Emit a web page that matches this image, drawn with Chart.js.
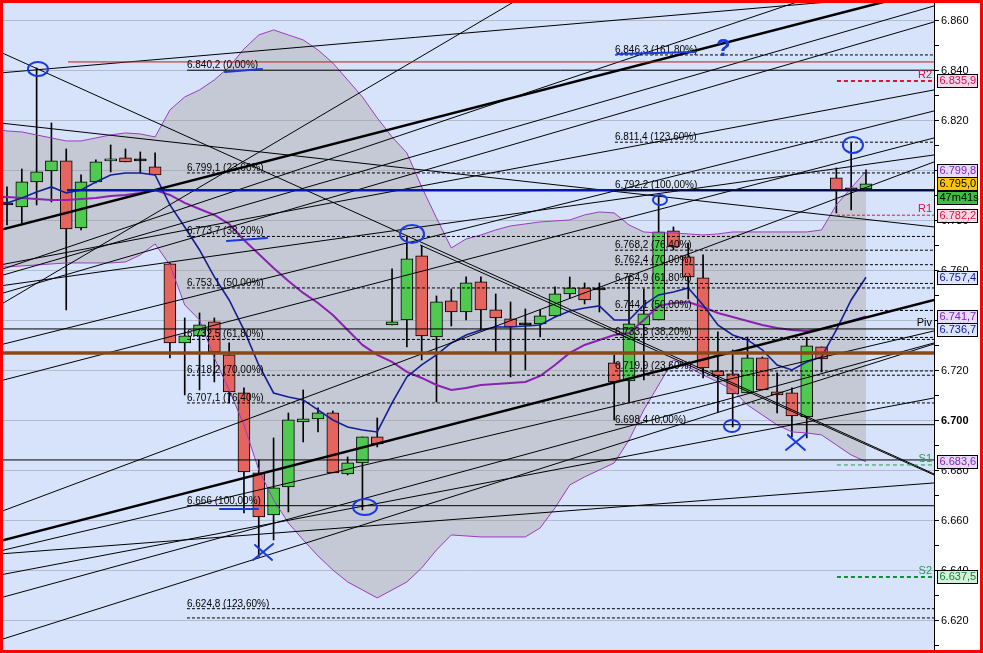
<!DOCTYPE html>
<html>
<head>
<meta charset="utf-8">
<script src="https://cdn.jsdelivr.net/npm/chart.js@4.4.1/dist/chart.umd.min.js"></script>
<style>
  html, body { margin: 0; padding: 0; background: #fff; }
  #wrap { width: 983px; height: 653px; }
</style>
</head>
<body>
<div id="wrap"><canvas id="chart" width="983" height="653"></canvas></div>
<script>
// bar index (one per candle)
const candleIndex = [0,1,2,3,4,5,6,7,8,9,10,11,12,13,14,15,16,17,18,19,20,21,22,23,24,25,26,27,28,29,
  30,31,32,33,34,35,36,37,38,39,40,41,42,43,44,45,46,47,48,49,50,51,52,53,54,55,56,57,58];

const opens = [6.7863,6.7855,6.7955,6.7999,6.8039,6.7771,6.7955,6.8039,6.8051,6.8039,
  6.8015,6.7627,6.7311,6.7339,6.7395,6.7263,6.7111,6.6791,6.6623,6.6735,
  6.6995,6.7007,6.7031,6.6787,6.6831,6.6935,6.7383,6.7403,6.7659,6.7335,
  6.7479,6.7435,6.7555,6.7443,6.7407,6.7383,6.7387,6.7419,6.7507,6.7531,
  6.7523,6.7231,6.7159,6.7383,6.7403,6.7759,6.7655,6.7571,6.7199,6.7187,
  6.7111,6.7251,6.7115,6.7111,6.7015,6.7295,6.7971,6.7923,6.7927];
const highs = [6.7935,6.8007,6.8411,6.8191,6.8087,6.7983,6.8043,6.8103,6.8087,6.8075,
  6.8071,6.7631,6.7411,6.7431,6.7411,6.7311,6.7131,6.6843,6.6931,6.7031,
  6.7123,6.7051,6.7039,6.6855,6.6935,6.7011,6.7607,6.7735,6.7699,6.7499,
  6.7527,6.7575,6.7575,6.7507,6.7475,6.7447,6.7443,6.7535,6.7575,6.7551,
  6.7551,6.7263,6.7575,6.7527,6.7895,6.7775,6.7711,6.7663,6.7355,6.7283,
  6.7335,6.7255,6.7191,6.7131,6.7331,6.7295,6.8011,6.8111,6.8003];
const lows = [6.7783,6.7791,6.7863,6.7875,6.7443,6.7763,6.7951,6.7995,6.8035,6.7991,
  6.7983,6.7251,6.7103,6.7123,6.7155,6.7071,6.6631,6.6455,6.6523,6.6635,
  6.6915,6.6955,6.6791,6.6783,6.6643,6.6895,6.7383,6.7295,6.7243,6.7075,
  6.7379,6.7403,6.7363,6.7271,6.7175,6.7203,6.7335,6.7415,6.7491,6.7467,
  6.7435,6.7003,6.7075,6.7163,6.7403,6.7683,6.7487,6.7171,6.7035,6.6975,
  6.7111,6.7123,6.7031,6.6935,6.6931,6.7195,6.7831,6.7843,6.7927];
const closes = [6.7863,6.7955,6.7995,6.8039,6.7767,6.7955,6.8035,6.8047,6.8035,6.8039,
  6.7983,6.7311,6.7339,6.7383,6.7275,6.7115,6.6795,6.6615,6.6731,6.7003,
  6.7007,6.7031,6.6791,6.6831,6.6935,6.6907,6.7395,6.7647,6.7339,6.7475,
  6.7435,6.7551,6.7443,6.7411,6.7375,6.7383,6.7419,6.7507,6.7531,6.7483,
  6.7523,6.7155,6.7387,6.7427,6.7755,6.7695,6.7575,6.7211,6.7179,6.7107,
  6.7251,6.7123,6.7103,6.7019,6.7299,6.7247,6.7923,6.7923,6.7947];

const maBlue = [6.7871,6.7891,6.7915,6.7935,6.7911,6.7923,6.7955,6.7983,6.7991,6.7991,
  6.7983,6.7863,6.7775,6.7683,6.7575,6.7483,6.7363,6.7223,6.7111,6.7095,
  6.7083,6.7043,6.7003,6.6975,6.6963,6.6955,6.7071,6.7175,6.7223,6.7263,
  6.7311,6.7343,6.7363,6.7375,6.7375,6.7379,6.7383,6.7415,6.7439,6.7451,
  6.7459,6.7403,6.7403,6.7463,6.7503,6.7515,6.7531,6.7463,6.7383,6.7343,
  6.7323,6.7283,6.7223,6.7203,6.7235,6.7255,6.7363,6.7483,6.7574];
const bandUpper = [6.8159,6.8155,6.8143,6.8131,6.8119,6.8119,6.8131,6.8143,6.8151,6.8147,
  6.8135,6.8243,6.8295,6.8323,6.8363,6.8415,6.8487,6.8543,6.8563,6.8543,
  6.8523,6.8483,6.8431,6.8363,6.8295,6.8211,6.8135,6.8071,6.7935,6.7811,
  6.7691,6.7727,6.7743,6.7763,6.7779,6.7787,6.7795,6.7799,6.7803,6.7823,
  6.7835,6.7831,6.7783,6.7755,6.7751,6.7751,6.7747,6.7743,6.7747,6.7755,
  6.7755,6.7755,6.7755,6.7755,6.7755,6.7763,6.7863,6.7931,6.7998];
const bandMid = [6.7895,6.7891,6.7887,6.7883,6.7883,6.7887,6.7891,6.7899,6.7903,6.7911,
  6.7923,6.7903,6.7871,6.7847,6.7823,6.7787,6.7723,6.7667,6.7611,6.7559,
  6.7511,6.7471,6.7423,6.7363,6.7303,6.7263,6.7235,6.7195,6.7171,6.7143,
  6.7123,6.7131,6.7143,6.7147,6.7151,6.7155,6.7179,6.7223,6.7271,6.7303,
  6.7323,6.7343,6.7351,6.7403,6.7459,6.7471,6.7475,6.7455,6.7431,6.7415,
  6.7399,6.7383,6.7371,6.7363,6.7359,6.7367,6.7383,6.7399,6.7417];
const bandLower = [6.7615,6.7619,6.7623,6.7627,6.7631,6.7631,6.7631,6.7631,6.7635,6.7663,
  6.7707,6.7623,6.7463,6.7403,6.7251,6.7123,6.6983,6.6803,6.6683,6.6591,
  6.6523,6.6459,6.6403,6.6355,6.6323,6.6291,6.6323,6.6355,6.6411,6.6483,
  6.6543,6.6539,6.6535,6.6535,6.6535,6.6535,6.6571,6.6651,6.6743,6.6775,
  6.6803,6.6831,6.6923,6.7043,6.7143,6.7243,6.7215,6.7183,6.7155,6.7123,
  6.7063,6.7023,6.6983,6.6955,6.6951,6.6943,6.6903,6.6863,6.6836];

// indicator readings at the left edge of the window (before bar 0)
const edgeBar = -0.47;
const edgeUpper = 6.8163, edgeMid = 6.7895, edgeLower = 6.7615, edgeMa = 6.7875;

// fibonacci levels (left set starts at bar 12, right set at bar 41)
const fibLeftStart = 12.15;
const fibLeftValues = [6.8402, 6.7991, 6.7737, 6.7531, 6.7325, 6.7182, 6.7071, 6.6660, 6.6248];
const fibLeftLabels = ['6.840,2 (0,00%)', '6.799,1 (23,60%)', '6.773,7 (38,20%)', '6.753,1 (50,00%)',
  '6.732,5 (61,80%)', '6.718,2 (70,00%)', '6.707,1 (76,40%)', '6.666 (100,00%)', '6.624,8 (123,60%)'];
const fibRightStart = 41.05;
const fibRightValues = [6.8463, 6.8114, 6.7922, 6.7682, 6.7624, 6.7549, 6.7441, 6.7333, 6.7199, 6.6984];
const fibRightLabels = ['6.846,3 (161,80%)', '6.811,4 (123,60%)', '6.792,2 (100,00%)', '6.768,2 (76,40%)',
  '6.762,4 (70,00%)', '6.754,9 (61,80%)', '6.744,1 (50,00%)', '6.733,3 (38,20%)', '6.719,9 (23,60%)', '6.698,4 (0,00%)'];
const extraDashed = [6.6211];

// other horizontal levels
const redLevel = 6.8435, redStart = 4.12;
const blueLevel = 6.7922, blueStart = 4.05;
const brownLevel = 6.7271;
const pivLevel = 6.7367;
const s1Solid = 6.6843;
const pivotStart = 56.04;
const pivotNames = ['R2', 'R1', 'Piv', 'S1', 'S2'];
const pivotValues = [6.8359, 6.7822, 6.7367, 6.6823, 6.6375];

// trend lines: [bar0, price0, bar1, price1]
const trendLines = [
  [-0.473, 6.7763, 62.593, 6.8727],
  [-0.473, 6.6519, 62.593, 6.7483],
  [-0.473, 6.7579, 62.593, 6.8659],
  [-0.473, 6.7507, 62.593, 6.8595],
  [-0.473, 6.7603, 62.593, 6.8859],
  [-0.473, 6.7303, 62.593, 6.8239],
  [-0.473, 6.7623, 62.593, 6.8323],
  [-0.473, 6.7159, 62.593, 6.8131],
  [-0.473, 6.7539, 62.593, 6.8063],
  [-0.473, 6.6635, 62.593, 6.8035],
  [-0.473, 6.6291, 62.593, 6.7311],
  [-0.473, 6.6123, 62.593, 6.7307],
  [-0.473, 6.6467, 62.593, 6.6751],
  [-0.473, 6.6479, 62.593, 6.7359],
  [-0.473, 6.6383, 62.593, 6.7091],
  [-0.473, 6.7463, 34.436, 6.8683],
  [-0.473, 6.8391, 62.593, 6.8711],
  [-0.473, 6.8475, 62.593, 6.6787],
  [-0.473, 6.8191, 62.593, 6.7775],
  [27.887, 6.7703, 62.593, 6.6783]
];
const thickTrends = [0, 1];

// right-axis value boxes
const boxValues = [6.8359, 6.7998, 6.7950, 6.7822, 6.7574, 6.7417, 6.7367, 6.6836, 6.6375];
const boxLabels = ['6.835,9', '6.799,8', '6.795,0', '6.782,2', '6.757,4', '6.741,7', '6.736,7', '6.683,6', '6.637,5'];
const boxFill = ['#f2d6ee', '#e4dcf8', '#ffc400', '#f8d8e4', '#dce4ff', '#e4dcf8', '#dce4ff', '#e4dcf8', '#d4f0d8'];
const boxText = ['#e0103c', '#8a20c0', '#000000', '#e0103c', '#10209a', '#8a20c0', '#10209a', '#8a20c0', '#108040'];
const timerLabel = '47m41s';

// hand drawn marks [bar, price]
const circleMarks = [[2.09, 6.8407], [27.35, 6.7747], [44.09, 6.7883], [57.12, 6.8103], [48.95, 6.6979], [24.17, 6.6655]];
const circleSize = [[10, 7], [12, 9], [7, 5], [10, 8], [8, 6], [12, 8]];
const crossMarks = [[17.29, 6.6475], [53.27, 6.6915]];
const underlines = [[14.72, 6.8395, 17.22, 6.8407], [14.85, 6.7719, 17.56, 6.7731],
  [14.38, 6.6647, 16.95, 6.6647], [41.19, 6.8467, 46.46, 6.8475]];
const questionMark = [47.87, 6.8459];

const X_MIN = -0.27, X_MAX = 62.593;
const Y_MIN = 6.60788, Y_MAX = 6.86708;
const FONT = 'Liberation Sans, Arial, sans-serif';

function hline(v, from, color, width, dash) {
  return {
    type: 'line', data: [{x: from, y: v}, {x: X_MAX, y: v}],
    borderColor: color, borderWidth: width, borderDash: dash || [],
    pointRadius: 0, fill: false, order: 1
  };
}

function seriesData(arr, edge) {
  return [{x: edgeBar, y: edge}].concat(candleIndex.map((i, k) => ({x: i, y: arr[k]})));
}

const datasets = [];

// candles
datasets.push({
  type: 'bar', data: candleIndex.map((i, k) => ({x: i, y: [lows[k], highs[k]]})),
  backgroundColor: '#000', barThickness: 1, grouped: false, order: 20
});
datasets.push({
  type: 'bar', data: candleIndex.map((i, k) => ({x: i, y: [opens[k], closes[k]]})),
  backgroundColor: candleIndex.map((i, k) => closes[k] > opens[k] ? '#4fc94f' : (closes[k] < opens[k] ? '#e4655e' : '#000')),
  borderColor: '#000', borderWidth: 1, borderSkipped: false, barThickness: 12,
  minBarLength: 2, grouped: false, order: 19
});

// bollinger bands (upper fills down to lower)
datasets.push({
  type: 'line', data: seriesData(bandUpper, edgeUpper), borderColor: '#9b3cc6', borderWidth: 1,
  pointRadius: 0, fill: '+1', backgroundColor: 'rgba(160,150,140,0.33)', order: 5
});
datasets.push({
  type: 'line', data: seriesData(bandLower, edgeLower), borderColor: '#9b3cc6', borderWidth: 1,
  pointRadius: 0, fill: false, order: 5
});
datasets.push({
  type: 'line', data: seriesData(bandMid, edgeMid), borderColor: '#8a22b0', borderWidth: 2,
  pointRadius: 0, fill: false, order: 4
});
datasets.push({
  type: 'line', data: seriesData(maBlue, edgeMa), borderColor: '#141e96', borderWidth: 1.6,
  pointRadius: 0, fill: false, order: 3
});

// fib levels
fibLeftValues.forEach((v, k) => {
  const solid = k === 0 || k === 7;
  datasets.push(hline(v, fibLeftStart, '#000', 1, solid ? [] : [3, 2]));
});
extraDashed.forEach(v => datasets.push(hline(v, fibLeftStart, '#000', 1, [3, 2])));
fibRightValues.forEach((v, k) => {
  const solid = k === 2 || k === 9;
  datasets.push(hline(v, fibRightStart, '#000', 1, solid ? [] : [3, 2]));
});

// trend lines
trendLines.forEach((t, k) => {
  datasets.push({
    type: 'line', data: [{x: t[0], y: t[1]}, {x: t[2], y: t[3]}],
    borderColor: '#000', borderWidth: thickTrends.includes(k) ? 2.5 : 1,
    pointRadius: 0, fill: false, order: 2
  });
});

// horizontal levels
datasets.push(hline(redLevel, redStart, '#c01818', 1));
datasets.push(hline(pivLevel, X_MIN, '#000', 1));
datasets.push(hline(s1Solid, X_MIN, '#000', 1));
datasets.push(hline(brownLevel, X_MIN, '#8c4814', 3.5));
datasets.push(hline(blueLevel, blueStart, '#0a14b4', 2.5));
datasets.push(hline(pivotValues[0], pivotStart, '#e0103c', 2, [4, 3]));
datasets.push(hline(pivotValues[1], pivotStart, '#e0103c', 1, [3, 2]));
datasets.push(hline(pivotValues[3], pivotStart, '#2a9a50', 1, [4, 3]));
datasets.push(hline(pivotValues[4], pivotStart, '#1a8a40', 2, [4, 3]));

function isMajor(v) {
  const m = v * 50;
  return Math.abs(m - Math.round(m)) < 1e-6;
}

const decor = {
  id: 'decor',
  beforeDraw(chart) {
    const {ctx, chartArea: a} = chart;
    ctx.save();
    ctx.fillStyle = '#ffffff';
    ctx.fillRect(0, 0, chart.width, chart.height);
    ctx.fillStyle = '#d6e3fa';
    ctx.fillRect(a.left, a.top, a.right - a.left, a.bottom - a.top);
    ctx.restore();
  },
  afterDraw(chart) {
    const {ctx, chartArea: a} = chart;
    const xs = chart.scales.x, ys = chart.scales.y;
    const P = (i, v) => [xs.getPixelForValue(i), ys.getPixelForValue(v)];

    // fib labels
    ctx.save();
    ctx.beginPath();
    ctx.rect(a.left, a.top, a.right - a.left, a.bottom - a.top);
    ctx.clip();
    ctx.font = '10px ' + FONT;
    ctx.fillStyle = '#000';
    ctx.textBaseline = 'alphabetic';
    ctx.textAlign = 'left';
    fibLeftValues.forEach((v, k) => {
      const p = P(fibLeftStart, v);
      ctx.fillText(fibLeftLabels[k], p[0], p[1] - 2);
    });
    fibRightValues.forEach((v, k) => {
      const p = P(fibRightStart, v);
      ctx.fillText(fibRightLabels[k], p[0], p[1] - 2);
    });

    // pivot names
    ctx.font = '11px ' + FONT;
    ctx.textAlign = 'right';
    const pivColors = ['#e0103c', '#e0103c', '#000', '#2a9a50', '#2a9a50'];
    pivotValues.forEach((v, k) => {
      ctx.fillStyle = pivColors[k];
      ctx.fillText(pivotNames[k], a.right - 2, ys.getPixelForValue(v) - 3);
    });

    // hand drawn marks
    ctx.strokeStyle = '#1a3ae0';
    ctx.lineWidth = 2;
    ctx.lineCap = 'round';
    circleMarks.forEach((c, k) => {
      const p = P(c[0], c[1]);
      ctx.beginPath();
      ctx.ellipse(p[0], p[1], circleSize[k][0], circleSize[k][1], 0, 0, Math.PI * 2);
      ctx.stroke();
    });
    crossMarks.forEach(c => {
      const p = P(c[0], c[1]);
      ctx.beginPath();
      ctx.moveTo(p[0] - 10, p[1] + 8); ctx.lineTo(p[0] + 10, p[1] - 8);
      ctx.moveTo(p[0] - 8, p[1] - 7); ctx.lineTo(p[0] + 9, p[1] + 8);
      ctx.stroke();
    });
    underlines.forEach(u => {
      const p0 = P(u[0], u[1]), p1 = P(u[2], u[3]);
      ctx.beginPath();
      ctx.moveTo(p0[0], p0[1]); ctx.lineTo(p1[0], p1[1]);
      ctx.stroke();
    });
    const q = P(questionMark[0], questionMark[1]);
    ctx.fillStyle = '#1a3ae0';
    ctx.textAlign = 'left';
    ctx.font = 'bold 24px ' + FONT;
    ctx.fillText('?', q[0], q[1]);
    ctx.restore();

    // value boxes on the axis
    const ysBox = boxValues.map(v => ys.getPixelForValue(v));
    for (let k = 1; k < ysBox.length; k++) {
      if (ysBox[k] - ysBox[k - 1] < 13) {
        const mid = (ysBox[k] + ysBox[k - 1]) / 2;
        ysBox[k - 1] = mid - 6.5;
        ysBox[k] = mid + 6.5;
      }
    }
    ctx.save();
    ctx.font = '11px ' + FONT;
    ctx.textBaseline = 'middle';
    ctx.textAlign = 'left';
    const drawBox = (y, fill, color, text) => {
      ctx.fillStyle = fill;
      ctx.fillRect(937.5, y - 6.5, 40, 13);
      ctx.strokeStyle = '#000';
      ctx.lineWidth = 1;
      ctx.strokeRect(937.5, Math.round(y - 6.5) + 0.5, 40, 13);
      ctx.fillStyle = color;
      ctx.fillText(text, 939.5, y + 0.5);
    };
    boxValues.forEach((v, k) => {
      drawBox(ysBox[k], boxFill[k], boxText[k], boxLabels[k]);
      if (k === 2) drawBox(ysBox[k] + 14, '#3fbf3f', '#000', timerLabel);
    });
    ctx.restore();

    // red frame
    ctx.save();
    ctx.strokeStyle = '#ff0000';
    ctx.lineWidth = 3;
    ctx.strokeRect(1.5, 1.5, chart.width - 3, chart.height - 3);
    ctx.restore();
  }
};

new Chart(document.getElementById('chart'), {
  type: 'bar',
  data: { datasets: datasets },
  options: {
    responsive: false,
    animation: false,
    devicePixelRatio: 1,
    events: [],
    layout: { padding: { left: 3, top: 3, right: 0, bottom: 2 } },
    plugins: {
      legend: { display: false },
      tooltip: { enabled: false },
      filler: { drawTime: 'beforeDatasetsDraw', propagate: false }
    },
    scales: {
      x: { type: 'linear', min: X_MIN, max: X_MAX, offset: false, display: false },
      y: {
        type: 'linear', position: 'right', min: Y_MIN, max: Y_MAX,
        border: { display: true, color: '#000', width: 1 },
        grid: {
          color: c => (c.tick && isMajor(c.tick.value)) ? '#b3bccc' : 'rgba(0,0,0,0)',
          tickColor: '#000', tickLength: 5, drawOnChartArea: true
        },
        ticks: {
          stepSize: 0.01, includeBounds: false, padding: 2, color: '#000',
          font: c => ({ family: FONT, size: 11,
            weight: (c.tick && Math.abs(c.tick.value - 6.7) < 1e-6) ? 'bold' : 'normal' }),
          callback: v => isMajor(v) ? v.toFixed(3) : ''
        },
        afterFit: s => { s.width = 49; s.paddingTop = 0; s.paddingBottom = 0; }
      }
    }
  },
  plugins: [decor]
});
</script>
</body>
</html>
